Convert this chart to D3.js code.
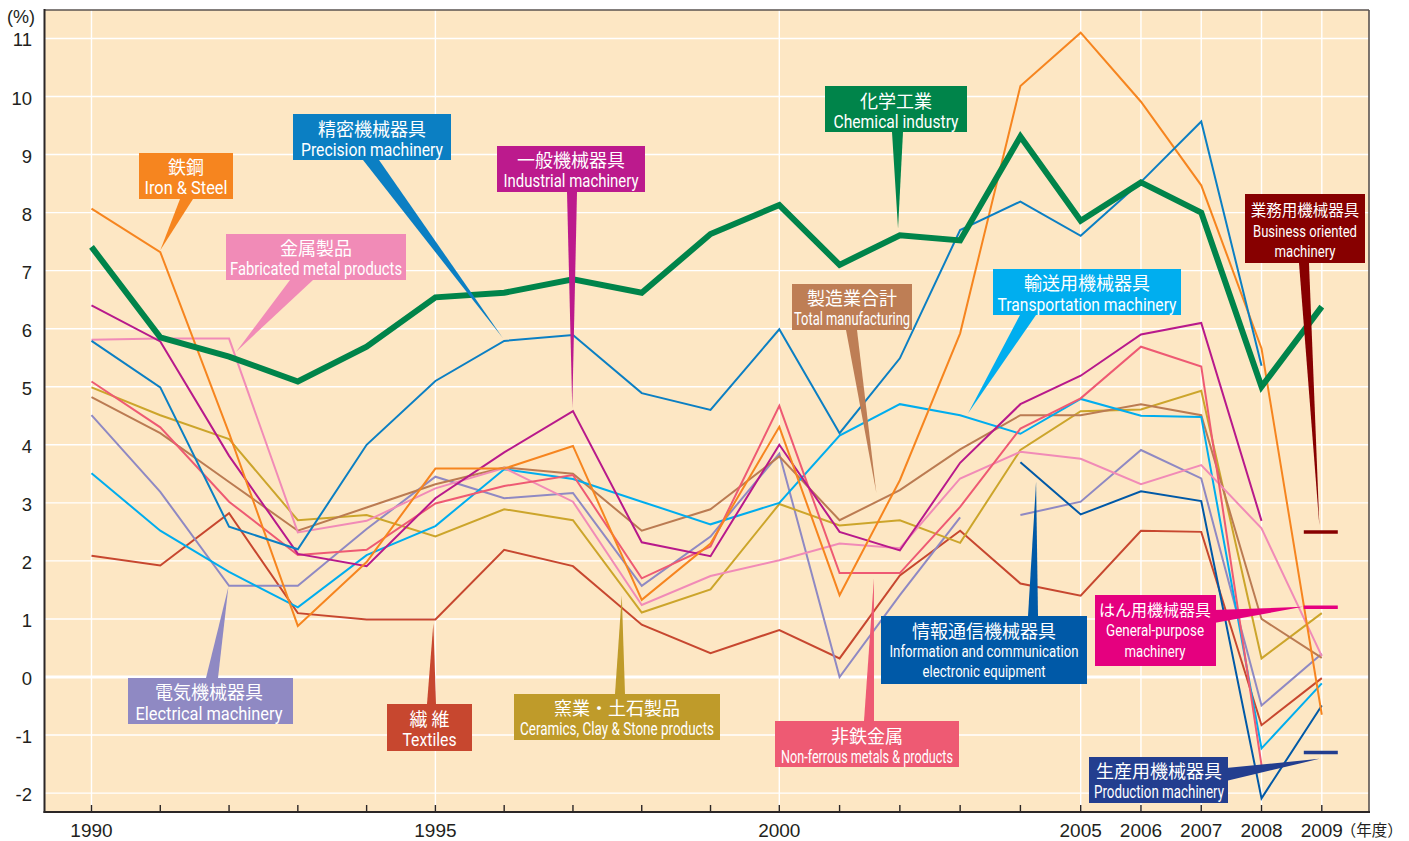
<!DOCTYPE html>
<html><head><meta charset="utf-8">
<script src="https://cdn.jsdelivr.net/npm/d3@7"></script>
<style>body{margin:0;background:#fff}</style>
</head><body>
<svg id="c" width="1409" height="841"></svg>
<script>
// ---------- DATA ----------
const years = d3.range(1990, 2010);               // 1990..2009
const yearsOld = d3.range(1990, 2004);            // 1990..2003
const yearsNew = d3.range(2004, 2010);            // 2004..2009
const yTicks = [-2,-1,0,1,2,3,4,5,6,7,8,9,10,11];
const xLabelYears = [1990,1995,2000,2005,2006,2007,2008,2009];

const chemical   = [7.41,5.85,5.52,5.09,5.69,6.54,6.62,6.85,6.62,7.63,8.13,7.10,7.61,7.52,9.31,7.86,8.52,8.00,5.00,6.38];
const ironSteel  = [8.07,7.32,4.20,0.88,1.98,3.59,3.59,3.98,1.33,2.30,4.31,1.41,3.39,5.92,10.18,11.10,9.91,8.47,5.66,-0.65];
const precision  = [5.79,4.99,2.59,2.20,4.00,5.10,5.79,5.89,4.89,4.60,5.99,4.20,5.49,7.70,8.19,7.60,8.53,9.57,5.36,null];
const fabricated = [5.81,5.83,5.83,2.49,2.69,3.25,3.60,3.02,1.24,1.74,2.01,2.30,2.22,3.42,3.88,3.76,3.32,3.65,2.56,0.36];
const industrial = [6.40,5.78,3.81,2.12,1.91,3.08,3.87,4.58,2.32,2.08,4.00,2.50,2.18,3.69,4.70,5.19,5.90,6.10,2.69,null];
const textiles   = [2.09,1.92,2.82,1.10,0.99,0.99,2.19,1.91,0.90,0.41,0.81,0.32,1.75,2.52,1.61,1.40,2.52,2.50,-0.83,-0.02];
const transport  = [3.51,2.52,1.81,1.20,2.10,2.60,3.58,3.41,3.02,2.63,3.00,4.16,4.70,4.51,4.19,4.79,4.50,4.48,-1.23,-0.11];
const totalMfg   = [4.82,4.20,3.36,2.52,2.92,3.32,3.61,3.50,2.52,2.89,3.80,2.70,3.22,3.92,4.51,4.51,4.70,4.51,1.00,0.33];
const nonferrous = [5.09,4.30,3.02,2.10,2.19,2.99,3.29,3.48,1.70,2.25,4.67,1.79,1.79,2.93,4.28,4.80,5.69,5.35,-1.52,null];
const ceramics   = [4.99,4.51,4.10,2.70,2.79,2.42,2.89,2.70,1.11,1.51,2.98,2.61,2.70,2.31,3.91,4.58,4.61,4.93,0.32,1.10];
const electricalOld = [4.51,3.19,1.57,1.57,2.55,3.45,3.08,3.17,1.57,2.42,3.85,0.00,1.41,2.75];
const electricalNew = [2.79,3.02,3.91,3.42,-0.49,0.40];
const infoComm      = [3.70,2.80,3.20,3.03,-2.09,-0.49];
// new 2009 categories (single values)
const newCatNames  = ['business','general','production'];
const newCatValues = [2.50, 1.20, -1.30];

// ---------- LAYOUT ----------
const plot = {left:44.5, right:1369, top:10, bottom:812};
const x = d3.scaleLinear().domain([1990,2000,2009]).range([91.5,779.3,1321.8]);
const y = d3.scaleLinear().domain([0,10]).range([677,96.5]);

const svg = d3.select('#c');
const sans = '"Liberation Sans", Arial, Helvetica, sans-serif';
const jpFont = '"Noto Sans CJK JP", "Noto Sans", sans-serif';
const enFont = '"Liberation Sans Narrow", "Roboto", "Liberation Sans", sans-serif';

// background
svg.append('rect').attr('x',plot.left).attr('y',plot.top)
  .attr('width',plot.right-plot.left).attr('height',plot.bottom-plot.top)
  .attr('fill','#FDE7C4');

// gridlines
const grid = svg.append('g');
grid.selectAll('line.h').data(yTicks).join('line')
  .attr('x1',plot.left).attr('x2',plot.right)
  .attr('y1',d=>y(d)).attr('y2',d=>y(d))
  .attr('stroke','#fff').attr('stroke-width',d=>d===0?3.2:1.4);
grid.selectAll('line.v').data(xLabelYears).join('line')
  .attr('x1',d=>x(d)).attr('x2',d=>x(d))
  .attr('y1',plot.top).attr('y2',plot.bottom)
  .attr('stroke','#fff').attr('stroke-width',1.4);

// frame
svg.append('line').attr('x1',plot.left).attr('x2',plot.right).attr('y1',plot.top).attr('y2',plot.top)
  .attr('stroke','#5a5350').attr('stroke-width',1.6);
svg.append('line').attr('x1',plot.right).attr('x2',plot.right).attr('y1',plot.top).attr('y2',plot.bottom)
  .attr('stroke','#5a5350').attr('stroke-width',1.6);
svg.append('line').attr('x1',plot.left).attr('x2',plot.left).attr('y1',plot.top-1).attr('y2',plot.bottom+1)
  .attr('stroke','#2b2626').attr('stroke-width',2);
svg.append('line').attr('x1',plot.left-1).attr('x2',plot.right+1).attr('y1',plot.bottom).attr('y2',plot.bottom)
  .attr('stroke','#2b2626').attr('stroke-width',2);

// x ticks (inside)
svg.append('g').selectAll('line').data(years).join('line')
  .attr('x1',d=>x(d)).attr('x2',d=>x(d))
  .attr('y1',plot.bottom-7).attr('y2',plot.bottom)
  .attr('stroke','#2b2626').attr('stroke-width',1.4);

// y labels
svg.append('g').selectAll('text').data(yTicks).join('text')
  .attr('x',32).attr('y',d=>y(d)+8)
  .attr('text-anchor','end').attr('font-family',sans).attr('font-size',18.5)
  .attr('fill','#231f20').text(d=>d);
svg.append('text').attr('x',7).attr('y',23).attr('font-family',sans).attr('font-size',18)
  .attr('fill','#231f20').text('(%)');

// x labels
svg.append('g').selectAll('text').data(xLabelYears).join('text')
  .attr('x',d=>x(d)).attr('y',837)
  .attr('text-anchor','middle').attr('font-family',sans).attr('font-size',19)
  .attr('fill','#231f20').text(d=>d);
svg.append('text').attr('x',x(2009)+19).attr('y',836).attr('font-family',jpFont).attr('font-size',15.5)
  .attr('fill','#231f20').text('（年度）');

// ---------- SERIES ----------
const line = d3.line().defined(d=>d[1]!=null).x(d=>x(d[0])).y(d=>y(d[1]));
const zip = (ys, vs) => ys.map((yr,i)=>[yr, vs[i]]);
const series = [
  {v: zip(years, textiles),   c:'#C7472F', w:2},
  {v: zip(yearsOld, electricalOld), c:'#8F89C3', w:2},
  {v: zip(yearsNew, electricalNew), c:'#8F89C3', w:2},
  {v: zip(yearsNew, infoComm), c:'#0059A7', w:2},
  {v: zip(years, ceramics),   c:'#CCA52B', w:2},
  {v: zip(years, totalMfg),   c:'#BB7B52', w:2},
  {v: zip(years, transport),  c:'#00ADEE', w:2},
  {v: zip(years, fabricated), c:'#F18BB7', w:2},
  {v: zip(years, nonferrous), c:'#EE5A73', w:2},
  {v: zip(years, industrial), c:'#B8198B', w:2},
  {v: zip(years, ironSteel),  c:'#F6851F', w:2},
  {v: zip(years, precision),  c:'#0B7FC3', w:2},
  {v: zip(years, chemical),   c:'#00844A', w:6}
];
svg.append('g').selectAll('path').data(series).join('path')
  .attr('d',d=>line(d.v)).attr('fill','none')
  .attr('stroke',d=>d.c).attr('stroke-width',d=>d.w)
  .attr('stroke-linejoin','miter').attr('stroke-miterlimit',4);

// ---------- CALLOUT LABELS ----------
const labels = [
  {jp:'鉄鋼', en:['Iron & Steel'], box:[139,153,94,46], fill:'#F6851F', jpY:174, enY:[194], enW:[83], cx:186,
   base:[[180,199],[193,199]], tip:[1991.0,7.35]},
  {jp:'金属製品', en:['Fabricated metal products'], box:[226,234,180,46], fill:'#F18BB7', jpY:255, enY:[275], enW:[172], cx:316,
   base:[[290,280],[313,280]], tip:[1992.1,5.6]},
  {jp:'精密機械器具', en:['Precision machinery'], box:[293,114,158,46], fill:'#0B7FC3', jpY:135.5, enY:[155.5], enW:[142], cx:372,
   base:[[363,160],[379,160]], tip:[1995.98,5.84]},
  {jp:'一般機械器具', en:['Industrial machinery'], box:[497,146,148,46], fill:'#BC1A8D', jpY:167, enY:[187], enW:[135], cx:571,
   base:[[567,192],[577,192]], tip:[1996.99,4.63]},
  {jp:'化学工業', en:['Chemical industry'], box:[825,86,142,46], fill:'#00844A', jpY:107.5, enY:[128], enW:[125], cx:896,
   base:[[892,132],[903,132]], tip:[2001.97,7.73]},
  {jp:'製造業合計', en:['Total manufacturing'], box:[792,284,120,46], fill:'#BE7E55', jpY:304.5, enY:[324.5], enW:[116], cx:852,
   base:[[846,330],[857,330]], tip:[2001.61,3.17]},
  {jp:'輸送用機械器具', en:['Transportation machinery'], box:[993,269,188,46], fill:'#00AEEF', jpY:289.5, enY:[310.5], enW:[179], cx:1087,
   base:[[1020,315],[1036,315]], tip:[2003.13,4.54]},
  {jp:'業務用機械器具', en:['Business oriented','machinery'], box:[1245,194,120,69], fill:'#870000', jpY:216, enY:[237,257], enW:[104,61], cx:1305,
   jpSize:15.5, enSize:16, base:[[1299,263],[1309,263]], tip:[2008.96,2.6]},
  {jp:'電気機械器具', en:['Electrical machinery'], box:[128,678,165,46], fill:'#8F89C3', jpY:698.5, enY:[719.5], enW:[147], cx:209,
   base:[[206,678],[218,678]], tip:[1991.99,1.55]},
  {jp:'繊 維', en:['Textiles'], box:[387,704,85,47], fill:'#C7472F', jpY:726, enY:[746], enW:[54], cx:429.5,
   base:[[427,704],[436,704]], tip:[1994.97,0.92]},
  {jp:'窯業・土石製品', en:['Ceramics, Clay & Stone products'], box:[514,694,206,46], fill:'#BF9B2A', jpY:715, enY:[735], enW:[194], cx:617,
   base:[[615,694],[625,694]], tip:[1997.71,1.41]},
  {jp:'非鉄金属', en:['Non-ferrous metals & products'], box:[775,721,184,46], fill:'#EE5A73', jpY:743, enY:[763], enW:[172], cx:867,
   base:[[864,721],[874,721]], tip:[2001.57,1.70]},
  {jp:'情報通信機械器具', en:['Information and communication','electronic equipment'], box:[881,616,206,68], fill:'#0059A7', jpY:637.5, enY:[657,677], enW:[189,123], cx:984,
   enSize:16.5, base:[[1028,616],[1038,616]], tip:[2004.26,3.36]},
  {jp:'はん用機械器具', en:['General-purpose','machinery'], box:[1095,595,121,71], fill:'#E5007F', jpY:615.5, enY:[636,657], enW:[98,61], cx:1155,
   jpSize:16, enSize:16, base:[[1214,610],[1214,623]], tip:[2008.69,1.21]},
  {jp:'生産用機械器具', en:['Production machinery'], box:[1089,757,139,46], fill:'#233E8F', jpY:778, enY:[798], enW:[130], cx:1159,
   base:[[1226,768],[1226,781]], tip:[2008.96,-1.41]}
];

const lg = svg.append('g');
labels.forEach(L => {
  const tip = [x(L.tip[0]), y(L.tip[1])];
  lg.append('polygon')
    .attr('points', [L.base[0], L.base[1], tip].map(p=>p.join(',')).join(' '))
    .attr('fill', L.fill);
  lg.append('rect').attr('x',L.box[0]).attr('y',L.box[1]).attr('width',L.box[2]).attr('height',L.box[3])
    .attr('fill',L.fill);
  lg.append('text').attr('x',L.cx).attr('y',L.jpY).attr('text-anchor','middle')
    .attr('font-family',jpFont).attr('font-size',L.jpSize||18).attr('fill','#fff').text(L.jp);
  L.en.forEach((t,i) => {
    lg.append('text').attr('x',L.cx).attr('y',L.enY[i]).attr('text-anchor','middle')
      .attr('font-family',enFont).attr('font-size',L.enSize||18.5).attr('fill','#fff')
      .attr('textLength',L.enW[i]).attr('lengthAdjust','spacingAndGlyphs').text(t);
  });
});

// 2009-only new categories: short dashes
const dashColors = {business:'#870000', general:'#E5007F', production:'#233E8F'};
svg.append('g').selectAll('line').data(newCatNames.map((n,i)=>({n, v:newCatValues[i]}))).join('line')
  .attr('x1',x(2009)-18).attr('x2',x(2009)+16)
  .attr('y1',d=>y(d.v)).attr('y2',d=>y(d.v))
  .attr('stroke',d=>dashColors[d.n]).attr('stroke-width',3.5);
</script>
</body></html>
